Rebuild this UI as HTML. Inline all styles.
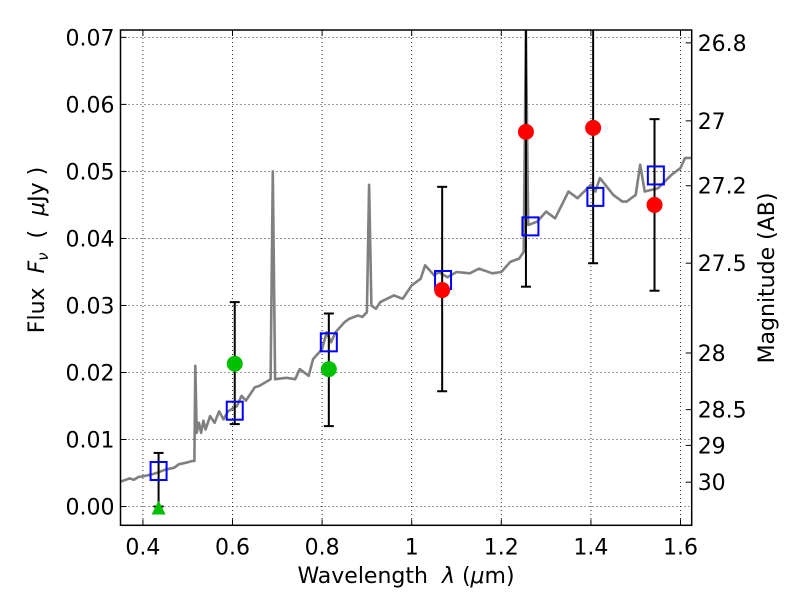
<!DOCTYPE html>
<html><head><meta charset="utf-8"><style>
body{margin:0;background:#fff}
svg text{font-family:"DejaVu Sans","Liberation Sans",sans-serif;fill:#000}
</style></head><body>
<svg id="chart" width="800" height="600" xmlns="http://www.w3.org/2000/svg">
<rect width="800" height="600" fill="#fff"/>
<g id="grid"></g>
<g id="plot"></g>
<g id="axes"></g>
<text x="406" y="583" font-size="22" text-anchor="middle" xml:space="preserve">Wavelength  <tspan font-style="italic">λ</tspan> (<tspan font-style="italic">μ</tspan>m)</text>
<text transform="translate(44,250) rotate(-90)" font-size="22" text-anchor="middle" xml:space="preserve">Flux  <tspan font-style="italic">F<tspan font-size="15" dy="4">ν</tspan></tspan><tspan dy="-4">  (  </tspan><tspan font-style="italic">μ</tspan>Jy )</text>
<text transform="translate(774,278) rotate(-90)" font-size="22" text-anchor="middle">Magnitude (AB)</text>
</svg>
<script>
const specWave=[0.35,0.37,0.38,0.39,0.40,0.42,0.43,0.45,0.47,0.48,0.50,0.51,0.515,0.517,0.52,0.525,0.53,0.535,0.54,0.55,0.56,0.57,0.58,0.59,0.61,0.62,0.63,0.65,0.66,0.685,0.69,0.695,0.72,0.74,0.75,0.77,0.78,0.80,0.81,0.82,0.83,0.85,0.86,0.88,0.89,0.90,0.905,0.91,0.92,0.93,0.96,0.98,1.0,1.02,1.03,1.05,1.06,1.08,1.1,1.13,1.15,1.18,1.2,1.22,1.24,1.25,1.255,1.26,1.28,1.3,1.32,1.35,1.37,1.4,1.41,1.42,1.45,1.47,1.48,1.50,1.51,1.52,1.55,1.58,1.60,1.61,1.625];
const specFlux=[0.0037,0.0042,0.004,0.0044,0.0045,0.0048,0.005,0.0055,0.0058,0.0063,0.0066,0.0068,0.0068,0.021,0.011,0.0125,0.011,0.0128,0.0115,0.0135,0.0125,0.0142,0.013,0.0142,0.015,0.0165,0.0158,0.0178,0.018,0.019,0.05,0.019,0.0192,0.019,0.0205,0.0195,0.022,0.0235,0.026,0.0245,0.026,0.0275,0.028,0.0285,0.0283,0.029,0.048,0.03,0.0295,0.0305,0.0315,0.031,0.033,0.034,0.036,0.0345,0.035,0.0342,0.035,0.0348,0.0355,0.0348,0.035,0.0365,0.037,0.038,0.071,0.042,0.0425,0.044,0.043,0.047,0.046,0.048,0.047,0.049,0.0465,0.0455,0.0455,0.0465,0.051,0.047,0.0475,0.0495,0.0505,0.052,0.052];
const modelWave=[0.435,0.605,0.815,1.07,1.265,1.41,1.545];
const modelFlux=[0.0053,0.0143,0.0245,0.0338,0.0418,0.0462,0.0494];
const greenWave=[0.605,0.815];
const greenFlux=[0.0213,0.0205];
const greenLo=[0.0123,0.012];
const greenHi=[0.0305,0.0288];
const limitWave=[0.435];
const limitFlux=[0.0];
const limitHi=[0.008];
const redWave=[1.068,1.255,1.405,1.542];
const redFlux=[0.0323,0.0559,0.0565,0.045];
const redLo=[0.0172,0.0328,0.0363,0.0322];
const redHi=[0.0477,0.08,0.08,0.0578];
const xTicks=[0.4,0.6,0.8,1,1.2,1.4,1.6];
const xTickLabels=["0.4","0.6","0.8","1","1.2","1.4","1.6"];
const yTicks=[0,0.01,0.02,0.03,0.04,0.05,0.06,0.07];
const yTickLabels=["0.00","0.01","0.02","0.03","0.04","0.05","0.06","0.07"];
const magTicks=[26.8,27,27.2,27.5,28,28.5,29,30];
const magTickLabels=["26.8","27","27.2","27.5","28","28.5","29","30"];

const L=120.5,R=691.7,T=30,B=525.3;
const xmin=0.35,xmax=1.625,ymin=-0.0028,ymax=0.0711;
const X=v=>L+(v-xmin)/(xmax-xmin)*(R-L);
const Y=v=>B-(v-ymin)/(ymax-ymin)*(B-T);
const NS="http://www.w3.org/2000/svg";
function mk(tag,attrs,parent){const e=document.createElementNS(NS,tag);for(const k in attrs)e.setAttribute(k,attrs[k]);parent.appendChild(e);return e;}
const grid=document.getElementById('grid'),plot=document.getElementById('plot'),axes=document.getElementById('axes');

xTicks.forEach((t,i)=>{
 const g=mk('line',{x1:X(t),x2:X(t),y1:T,y2:B,stroke:'#000','stroke-width':0.8,'stroke-dasharray':'1,3'},grid);
 
 
 mk('line',{x1:X(t),x2:X(t),y1:B,y2:B-6,stroke:'#000'},axes);
 mk('line',{x1:X(t),x2:X(t),y1:T,y2:T+6,stroke:'#000'},axes);
 const tx=mk('text',{x:X(t),y:B+29,'font-size':22,'text-anchor':'middle'},axes);
 tx.textContent=xTickLabels[i];
 
 
});
yTicks.forEach((t,i)=>{
 const g=mk('line',{x1:L,x2:R,y1:Y(t),y2:Y(t),stroke:'#000','stroke-width':0.8,'stroke-dasharray':'1,3'},grid);
 
 
 mk('line',{x1:L,x2:L+6,y1:Y(t),y2:Y(t),stroke:'#000'},axes);
 const tx=mk('text',{x:L-6,y:Y(t)+8,'font-size':22,'text-anchor':'end'},axes);
 tx.textContent=yTickLabels[i];
 
 
});
magTicks.forEach((m,i)=>{
 const f=Math.pow(10,(23.9-m)/2.5);
 mk('line',{x1:R,x2:R-6,y1:Y(f),y2:Y(f),stroke:'#000'},axes);
 const tx=mk('text',{x:R+6,y:Y(f)+8,'font-size':22},axes);
 tx.textContent=magTickLabels[i];
 
 
});

let d='';specWave.forEach((w,i)=>{d+=(i?'L':'M')+X(w).toFixed(1)+','+Y(Math.min(specFlux[i],ymax)).toFixed(1);});
const sp=mk('path',{d:d,fill:'none',stroke:'#808080','stroke-width':2.6,'stroke-linejoin':'round'},plot);



function errbar(x,lo,hi){
 const top=Math.min(hi,ymax),bot=Math.max(lo,ymin);
 const g=mk('g',{stroke:'#000','stroke-width':2},plot);
 
 
 mk('line',{x1:X(x),x2:X(x),y1:Y(top),y2:Y(bot)},g);
 if(hi<=ymax)mk('line',{x1:X(x)-5,x2:X(x)+5,y1:Y(hi),y2:Y(hi)},g);
 mk('line',{x1:X(x)-5,x2:X(x)+5,y1:Y(lo),y2:Y(lo)},g);
}
greenWave.forEach((w,i)=>errbar(w,greenLo[i],greenHi[i]));
redWave.forEach((w,i)=>errbar(w,redLo[i],redHi[i]));
limitWave.forEach((w,i)=>errbar(w,limitFlux[i],limitHi[i]));

modelWave.forEach((w,i)=>{
 const r=mk('rect',{x:X(w)-8,y:Y(modelFlux[i])-9,width:16,height:18,fill:'none',stroke:'#0000ff','stroke-width':2},plot);
 
 
});
greenWave.forEach((w,i)=>{
 const c=mk('circle',{cx:X(w),cy:Y(greenFlux[i]),r:8,fill:'#00c000'},plot);
 
 
});
limitWave.forEach((w,i)=>{
 const x=X(w),y=Y(limitFlux[i]);
 const p=mk('polygon',{points:`${x-7},${y+8} ${x+7},${y+8} ${x},${y-6}`,fill:'#00c000'},plot);
 
 
});
redWave.forEach((w,i)=>{
 const c=mk('circle',{cx:X(w),cy:Y(redFlux[i]),r:8,fill:'#ff0000'},plot);
 
 
});
const fr=mk('rect',{x:L,y:T,width:R-L,height:B-T,fill:'none',stroke:'#000','stroke-width':1.5},axes);


</script>
</body></html>
